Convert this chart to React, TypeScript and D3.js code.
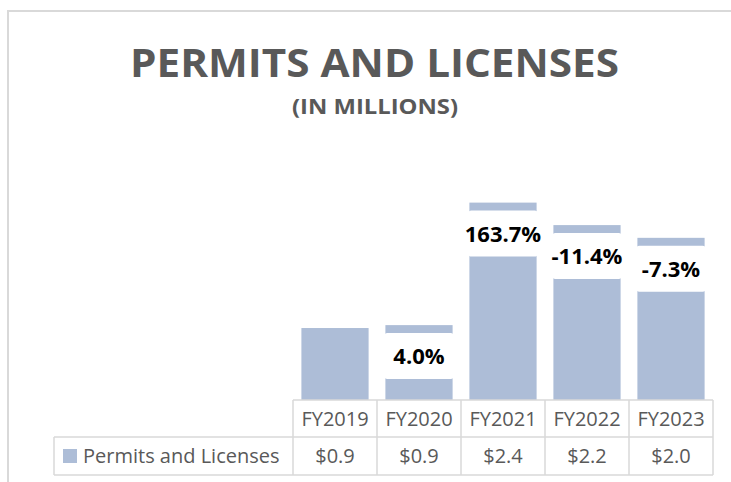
import React from "react";
import * as d3 from "d3";

const categories = ["FY2019", "FY2020", "FY2021", "FY2022", "FY2023"];
const values = [0.893, 0.929, 2.449, 2.17, 2.012];
const tableLabels = ["$0.9", "$0.9", "$2.4", "$2.2", "$2.0"];
const changeLabels = ["", "4.0%", "163.7%", "-11.4%", "-7.3%"];
const seriesName = "Permits and Licenses";
const title = "PERMITS AND LICENSES";
const subtitle = "(IN MILLIONS)";

const W = 731;
const H = 482;
const BAR = "#adbdd7";
const GRID = "#d9d9d9";
const TXT = "#595959";
const FONT = "'Open Sans', 'DejaVu Sans', sans-serif";

export default function App() {
  const tableLeft = 293;
  const tableRight = 713;
  const legendLeft = 54;
  const baseY = 400;
  const rowMid = 437;
  const rowBottom = 475;

  const x = d3
    .scaleBand<string>()
    .domain(categories)
    .range([tableLeft, tableRight])
    .paddingInner(0.2)
    .paddingOuter(0.1);
  const y = d3.scaleLinear().domain([0, 3]).range([baseY, baseY - 3 * 80.6]);
  const step = x.step();
  const colX = (i: number) => tableLeft + step * i;

  return (
    <svg
      width={W}
      height={H}
      style={{ position: "absolute", left: 0, top: 0, display: "block", background: "#fff" }}
    >
      <rect x={8} y={11} width={W + 20} height={H + 20} fill="#fff" stroke={GRID} strokeWidth={2} />

      <text
        x={374.5}
        y={77}
        textAnchor="middle"
        fontFamily={FONT}
        fontWeight={700}
        fontSize={40}
        fill={TXT}
        textLength={489}
        lengthAdjust="spacingAndGlyphs"
      >
        {title}
      </text>
      <text
        x={375}
        y={114}
        textAnchor="middle"
        fontFamily={FONT}
        fontWeight={700}
        fontSize={22}
        fill={TXT}
        textLength={166}
        lengthAdjust="spacingAndGlyphs"
      >
        {subtitle}
      </text>

      {categories.map((c, i) => {
        const bx = x(c)!;
        const top = y(values[i]);
        return (
          <rect key={c} x={bx} y={top} width={x.bandwidth()} height={baseY - top} fill={BAR} />
        );
      })}

      {categories.map((c, i) => {
        if (!changeLabels[i]) return null;
        const bx = x(c)!;
        const top = y(values[i]);
        const boxTop = top + 8;
        const boxH = 46;
        return (
          <g key={"l" + c}>
            <rect x={bx - 1} y={boxTop} width={x.bandwidth() + 2} height={boxH} rx={3} fill="#fff" />
            <text
              x={bx + x.bandwidth() / 2}
              y={boxTop + boxH / 2 + 8}
              textAnchor="middle"
              fontFamily={FONT}
              fontWeight={700}
              fontSize={22}
              fill="#000"
            >
              {changeLabels[i]}
            </text>
          </g>
        );
      })}

      {/* table */}
      <g stroke={GRID} strokeWidth={1.5} fill="none">
        <line x1={tableLeft} x2={tableRight} y1={baseY} y2={baseY} />
        <line x1={legendLeft} x2={tableRight} y1={rowMid} y2={rowMid} />
        <line x1={legendLeft} x2={tableRight} y1={rowBottom} y2={rowBottom} />
        <line x1={legendLeft} x2={legendLeft} y1={rowMid} y2={rowBottom} />
        {d3.range(categories.length + 1).map((i) => (
          <line key={i} x1={colX(i)} x2={colX(i)} y1={baseY} y2={rowBottom} />
        ))}
      </g>

      {categories.map((c, i) => (
        <g key={"t" + c} fontFamily={FONT} fontSize={20} fill={TXT} textAnchor="middle">
          <text x={colX(i) + step / 2} y={426}>
            {c}
          </text>
          <text x={colX(i) + step / 2} y={463}>
            {tableLabels[i]}
          </text>
        </g>
      ))}

      <rect x={63} y={449} width={14} height={14} fill={BAR} />
      <text x={83} y={463} fontFamily={FONT} fontSize={20} fill={TXT}>
        {seriesName}
      </text>
    </svg>
  );
}
